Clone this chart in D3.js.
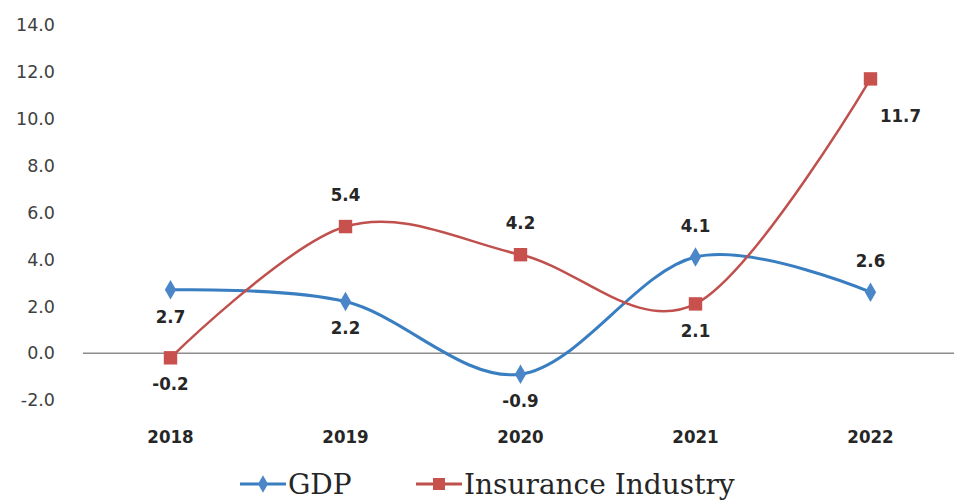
<!DOCTYPE html>
<html><head><meta charset="utf-8">
<script src="https://cdn.jsdelivr.net/npm/d3@7"></script>
<style>body{margin:0;background:#fff}</style>
</head><body>
<svg id="c" width="954" height="500"></svg>
<script>
const years = ["2018","2019","2020","2021","2022"];
const gdp = [2.7, 2.2, -0.9, 4.1, 2.6];
const insurance = [-0.2, 5.4, 4.2, 2.1, 11.7];
const yTicks = [-2, 0, 2, 4, 6, 8, 10, 12, 14];
const seriesNames = ["GDP", "Insurance Industry"];
// label placement: 1 = above, -1 = below, 2 = right-below
const gdpLabelPos = [-1, -1, -1, 1, 1];
const insLabelPos = [-1, 1, 1, -1, 2];

const svg = d3.select("#c");
const x = d3.scaleBand().domain(years).range([83, 958]);
const y = d3.scaleLinear().domain([-2, 14]).range([400, 25]);
const cx = d => x(d) + x.bandwidth() / 2;
const condF = "DejaVu Sans Condensed, DejaVu Sans, sans-serif";

// y tick labels
svg.append("g").selectAll("text").data(yTicks).join("text")
  .attr("x", 55).attr("y", d => y(d)).attr("dy", "0.36em")
  .attr("text-anchor", "end")
  .attr("font-family", "DejaVu Sans, sans-serif")
  .attr("font-size", 17.5).attr("fill", "#404040")
  .text(d => d.toFixed(1));

// zero axis line
svg.append("line").attr("x1", 83).attr("x2", 958)
  .attr("y1", y(0)).attr("y2", y(0))
  .attr("stroke", "#8c8c8c").attr("stroke-width", 1.5);

// x labels
svg.append("g").selectAll("text").data(years).join("text")
  .attr("x", d => cx(d)).attr("y", 436).attr("dy", "0.36em")
  .attr("text-anchor", "middle")
  .attr("font-family", condF)
  .attr("font-weight", "bold").attr("font-size", 18.5).attr("fill", "#262626")
  .text(d => d);

const line = d3.line().x((d, i) => cx(years[i])).y(d => y(d)).curve(d3.curveCatmullRom.alpha(0));

const series = [
  {name: seriesNames[0], values: gdp, color: "#3a7ec2", mark: "#4a86c8", sym: d3.symbolDiamond, size: 110, w: 3, pos: gdpLabelPos},
  {name: seriesNames[1], values: insurance, color: "#c0504d", mark: "#c8504d", sym: d3.symbolSquare, size: 180, w: 2.5, pos: insLabelPos}
];

series.forEach(s => {
  svg.append("path").datum(s.values).attr("d", line)
    .attr("fill", "none").attr("stroke", s.color).attr("stroke-width", s.w);
});
series.forEach(s => {
  svg.append("g").selectAll("path").data(s.values).join("path")
    .attr("transform", (d, i) => `translate(${cx(years[i])},${y(d)})`)
    .attr("d", d3.symbol().type(s.sym).size(s.size))
    .attr("fill", s.mark);
  svg.append("g").selectAll("text").data(s.values).join("text")
    .attr("x", (d, i) => cx(years[i]) + (s.pos[i] === 2 ? 30 : 0))
    .attr("y", (d, i) => y(d) + (s.pos[i] === 1 ? -32 : (s.pos[i] === 2 ? 36 : 26)))
    .attr("dy", "0.36em")
    .attr("text-anchor", "middle")
    .attr("font-family", condF)
    .attr("font-weight", "bold").attr("font-size", 18.5).attr("fill", "#262626")
    .text(d => d.toFixed(1));
});

// legend
const leg = svg.append("g");
const legX = [240, 416];
series.forEach((s, i) => {
  const g = leg.append("g").attr("transform", `translate(${legX[i]},484)`);
  g.append("line").attr("x1", 0).attr("x2", 46).attr("y1", 0).attr("y2", 0)
    .attr("stroke", s.color).attr("stroke-width", 3);
  g.append("path").attr("transform", "translate(23,0)")
    .attr("d", d3.symbol().type(s.sym).size(s.size * 0.8)).attr("fill", s.mark);
  g.append("text").attr("x", 48).attr("y", 9.5)
    .attr("font-family", "DejaVu Serif, serif").attr("font-size", 28).attr("fill", "#262626")
    .text(s.name);
});
</script>
</body></html>
